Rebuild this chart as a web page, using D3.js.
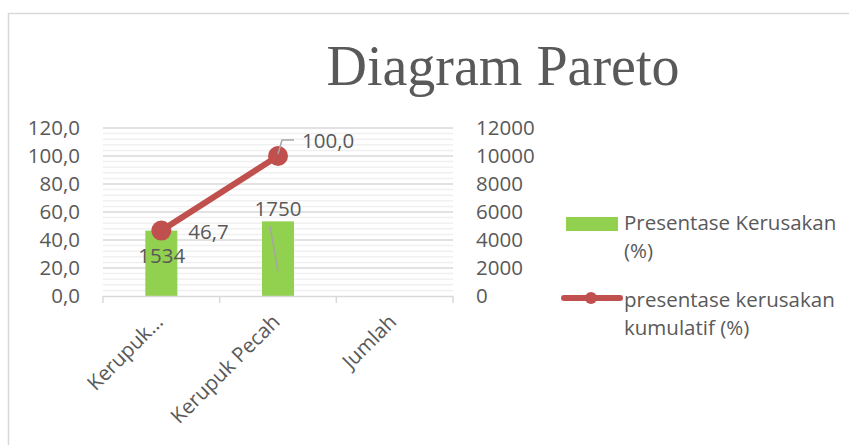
<!DOCTYPE html>
<html>
<head>
<meta charset="utf-8">
<script src="https://cdn.jsdelivr.net/npm/d3@7"></script>
<style>
  body { margin: 0; background: #fff; }
  svg { display: block; }
  text { font-family: "Open Sans", sans-serif; fill: #595959; }
</style>
</head>
<body>
<svg id="chart" width="849" height="445"></svg>
<script>
// data
const categories = ["Kerupuk...", "Kerupuk Pecah", "Jumlah"];
const barValues = [46.7, 53.3];          // Presentase Kerusakan (%)
const barLabels = ["1534", "1750"];
const lineValues = [46.7, 100.0];        // presentase kerusakan kumulatif (%)
const lineLabels = ["46,7", "100,0"];
const leftTicks = [0, 20, 40, 60, 80, 100, 120];
const rightTicks = [0, 2000, 4000, 6000, 8000, 10000, 12000];

const fs = "20.5px";
const svg = d3.select("#chart");

// outer chart border
svg.append("path")
  .attr("d", "M8.5,445 V13.5 H849")
  .attr("fill", "none")
  .attr("stroke", "#d9d9d9")
  .attr("stroke-width", 1.5);

// title
svg.append("text")
  .attr("x", 503)
  .attr("y", 85)
  .attr("text-anchor", "middle")
  .style("font-family", "'Liberation Serif', serif")
  .style("font-size", "56px")
  .text("Diagram Pareto");

const plot = { left: 103, right: 453, top: 128, bottom: 296 };

const x = d3.scaleBand()
  .domain(categories)
  .range([plot.left, plot.right]);

const y = d3.scaleLinear().domain([0, 120]).range([plot.bottom, plot.top]);
const y2 = d3.scaleLinear().domain([0, 12000]).range([plot.bottom, plot.top]);

// minor gridlines
svg.append("g")
  .selectAll("line")
  .data(d3.range(0, 121, 4).filter(v => v % 20 !== 0))
  .join("line")
  .attr("x1", plot.left).attr("x2", plot.right)
  .attr("y1", d => y(d)).attr("y2", d => y(d))
  .attr("stroke", "#f0f0f0")
  .attr("stroke-width", 1.5);

// major gridlines
svg.append("g")
  .selectAll("line")
  .data(leftTicks.filter(v => v > 0))
  .join("line")
  .attr("x1", plot.left).attr("x2", plot.right)
  .attr("y1", d => y(d)).attr("y2", d => y(d))
  .attr("stroke", "#d9d9d9")
  .attr("stroke-width", 1.5);

// left axis
const leftAxis = svg.append("g")
  .attr("transform", `translate(${plot.left},0)`)
  .call(d3.axisLeft(y).tickValues(leftTicks).tickSize(0).tickPadding(23)
    .tickFormat(d => d3.format(".1f")(d).replace(".", ",")));
leftAxis.select(".domain").remove();
leftAxis.selectAll("text").style("font-size", fs).attr("fill", "#595959");

// right axis
const rightAxis = svg.append("g")
  .attr("transform", `translate(${plot.right},0)`)
  .call(d3.axisRight(y2).tickValues(rightTicks).tickSize(0).tickPadding(23)
    .tickFormat(d3.format("d")));
rightAxis.select(".domain").remove();
rightAxis.selectAll("text").style("font-size", fs).attr("fill", "#595959");

// bars
const barW = 32;
svg.append("g")
  .selectAll("rect")
  .data(barValues)
  .join("rect")
  .attr("x", (d, i) => x(categories[i]) + x.bandwidth() / 2 - barW / 2)
  .attr("y", d => y(d))
  .attr("width", barW)
  .attr("height", d => y(0) - y(d))
  .attr("fill", "#92d050");

// x axis
const xAxis = svg.append("g")
  .attr("transform", `translate(0,${plot.bottom})`)
  .call(d3.axisBottom(x).tickSize(0).tickFormat(""));
xAxis.select(".domain").attr("stroke", "#d9d9d9").attr("stroke-width", 1.5);
svg.append("g")
  .selectAll("line")
  .data(d3.range(categories.length + 1))
  .join("line")
  .attr("x1", i => plot.left + i * x.bandwidth())
  .attr("x2", i => plot.left + i * x.bandwidth())
  .attr("y1", plot.bottom).attr("y2", plot.bottom + 7)
  .attr("stroke", "#d9d9d9")
  .attr("stroke-width", 1.5);

// category labels, rotated
svg.append("g")
  .selectAll("text")
  .data(categories)
  .join("text")
  .attr("transform", d => `translate(${x(d) + x.bandwidth() / 2 - 2},${plot.bottom + 22}) rotate(-45)`)
  .attr("text-anchor", "end")
  .attr("dy", "0.35em")
  .style("font-size", fs)
  .text(d => d);

// leader line inside the second bar (from the original)
const cx = i => x(categories[i]) + x.bandwidth() / 2;
svg.append("line")
  .attr("x1", cx(1) - 8).attr("y1", y(barValues[1]) + 5)
  .attr("x2", cx(1)).attr("y2", y(barValues[1]) + 50)
  .attr("stroke", "#a6a6a6").attr("stroke-width", 1.5);

// cumulative line
const line = d3.line()
  .x((d, i) => cx(i))
  .y(d => y(d));
svg.append("path")
  .datum(lineValues)
  .attr("d", line)
  .attr("fill", "none")
  .attr("stroke", "#c0504d")
  .attr("stroke-width", 6);
svg.append("g")
  .selectAll("circle")
  .data(lineValues)
  .join("circle")
  .attr("cx", (d, i) => cx(i))
  .attr("cy", d => y(d))
  .attr("r", 10)
  .attr("fill", "#c0504d");

// leader for 100,0
svg.append("path")
  .attr("d", `M${cx(1)},${y(lineValues[1]) - 2} L${cx(1) + 4},${y(lineValues[1]) - 16} H${cx(1) + 16}`)
  .attr("fill", "none")
  .attr("stroke", "#a6a6a6")
  .attr("stroke-width", 1.5);

// bar labels
svg.append("text").attr("x", cx(0) - 23).attr("y", 263).style("font-size", fs).text(barLabels[0]);
svg.append("text").attr("x", cx(1)).attr("y", y(barValues[1]) - 5).attr("text-anchor", "middle").style("font-size", fs).text(barLabels[1]);

// line labels
svg.append("text").attr("x", cx(0) + 27).attr("y", y(lineValues[0]) + 8).style("font-size", fs).text(lineLabels[0]);
svg.append("text").attr("x", cx(1) + 24).attr("y", y(lineValues[1]) - 8).style("font-size", fs).text(lineLabels[1]);

// legend
const lg = svg.append("g");
lg.append("rect").attr("x", 566).attr("y", 217).attr("width", 52).attr("height", 14).attr("fill", "#92d050");
lg.append("text").attr("x", 624).attr("y", 230).style("font-size", fs)
  .selectAll("tspan").data(["Presentase Kerusakan", "(%)"]).join("tspan")
  .attr("x", 624).attr("dy", (d, i) => i ? 28 : 0).text(d => d);
lg.append("line").attr("x1", 564).attr("x2", 620).attr("y1", 298).attr("y2", 298)
  .attr("stroke", "#c0504d").attr("stroke-width", 6).attr("stroke-linecap", "round");
lg.append("circle").attr("cx", 591).attr("cy", 298).attr("r", 6).attr("fill", "#c0504d");
lg.append("text").attr("x", 624).attr("y", 307).style("font-size", fs)
  .selectAll("tspan").data(["presentase kerusakan", "kumulatif (%)"]).join("tspan")
  .attr("x", 624).attr("dy", (d, i) => i ? 28 : 0).text(d => d);
</script>
</body>
</html>
